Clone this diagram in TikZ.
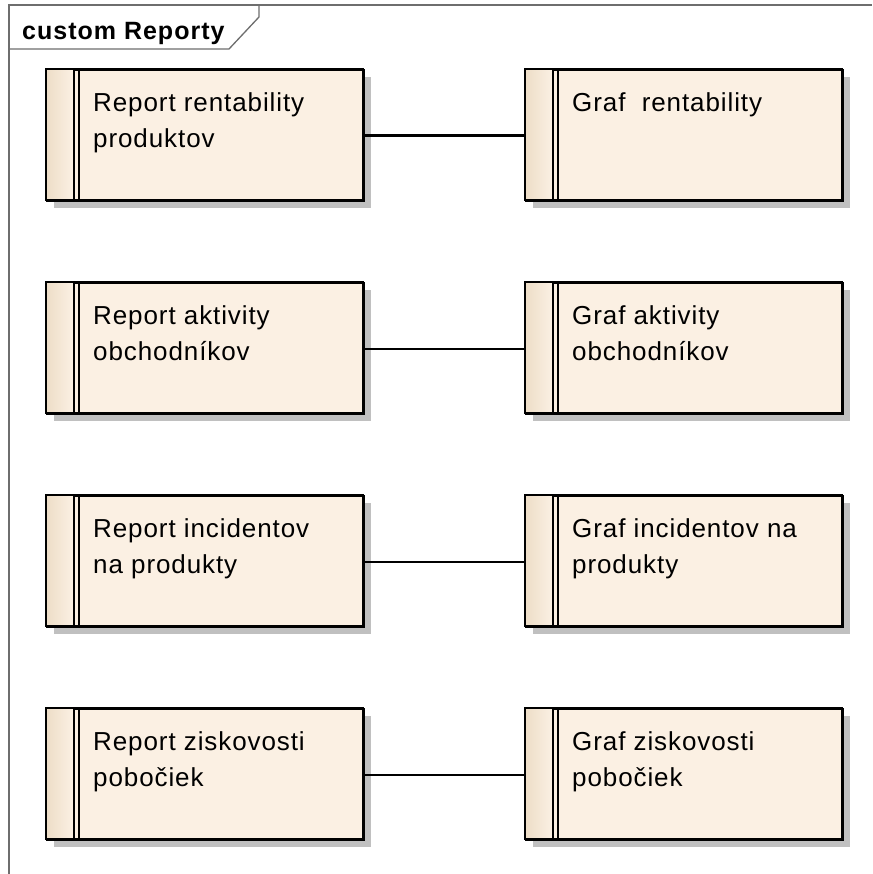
\documentclass[tikz,border=0pt]{standalone}
\usepackage{fontspec}
\setmainfont{Liberation Sans}
\usetikzlibrary{calc}
\definecolor{cream}{RGB}{251,240,227}
\definecolor{stripdark}{RGB}{238,222,200}
\definecolor{shadowgray}{RGB}{192,192,192}
\definecolor{framegray}{RGB}{110,110,110}
\tikzset{
  framestyle/.style={framegray, line width=1.3},
  classbox/.style={draw=black, fill=cream, line width=2.4, minimum width=317, minimum height=131, inner sep=0, anchor=north west},
  boxlabel/.style={anchor=north west, inner sep=0, align=left, font=\fontsize{26}{36}\selectfont\addfontfeature{LetterSpace=3.5}},
  titlelabel/.style={anchor=base west, inner sep=0, font=\bfseries\fontsize{25}{29}\selectfont\addfontfeature{LetterSpace=4}},
  connector/.style={draw=black, line width=2.4}
}
\newcommand\mkclassbox[4]{%
  \fill[shadowgray] (#2+8,#3+8) rectangle ++(317,131);
  \node[classbox] (#1) at (#2,#3) {};
  \shade[left color=stripdark, right color=cream] (#2+1,#3+1) rectangle (#2+27,#3+130);
  \draw[black, line width=2.2] (#2+28,#3) -- ++(0,131);
  \draw[black, line width=2.2] (#2+33,#3) -- ++(0,131);
  \draw[black, line width=2.4] (#2,#3) rectangle ++(317,131);
  \node[boxlabel] (#1t) at (#2+47,#3+23) {#4};
}
\begin{document}
\begin{tikzpicture}[x=1pt,y=-1pt]
\useasboundingbox (0,0) rectangle (872,874);
\fill[white] (0,0) rectangle (872,874);
% frame
\draw[framestyle] (9,874) -- (9,5) -- (872,5);
\draw[framestyle] (9,49) -- (229,49) -- (259,17) -- (259,5);
\node[titlelabel] (title) at (22,40) {custom Reporty};
% boxes
\mkclassbox{r1}{46}{69}{Report rentability\\produktov}
\mkclassbox{g1}{525}{69}{Graf\ \ rentability}
\mkclassbox{r2}{46}{282}{Report aktivity\\obchodníkov}
\mkclassbox{g2}{525}{282}{Graf aktivity\\obchodníkov}
\mkclassbox{r3}{46}{495}{Report incidentov\\na produkty}
\mkclassbox{g3}{525}{495}{Graf incidentov na\\produkty}
\mkclassbox{r4}{46}{708}{Report ziskovosti\\pobočiek}
\mkclassbox{g4}{525}{708}{Graf ziskovosti\\pobočiek}
% connectors
\draw[connector] (r1.east) -- (g1.west);
\draw[connector] (r2.east) -- (g2.west);
\draw[connector] (r3.east) -- (g3.west);
\draw[connector] (r4.east) -- (g4.west);
\end{tikzpicture}
\end{document}
